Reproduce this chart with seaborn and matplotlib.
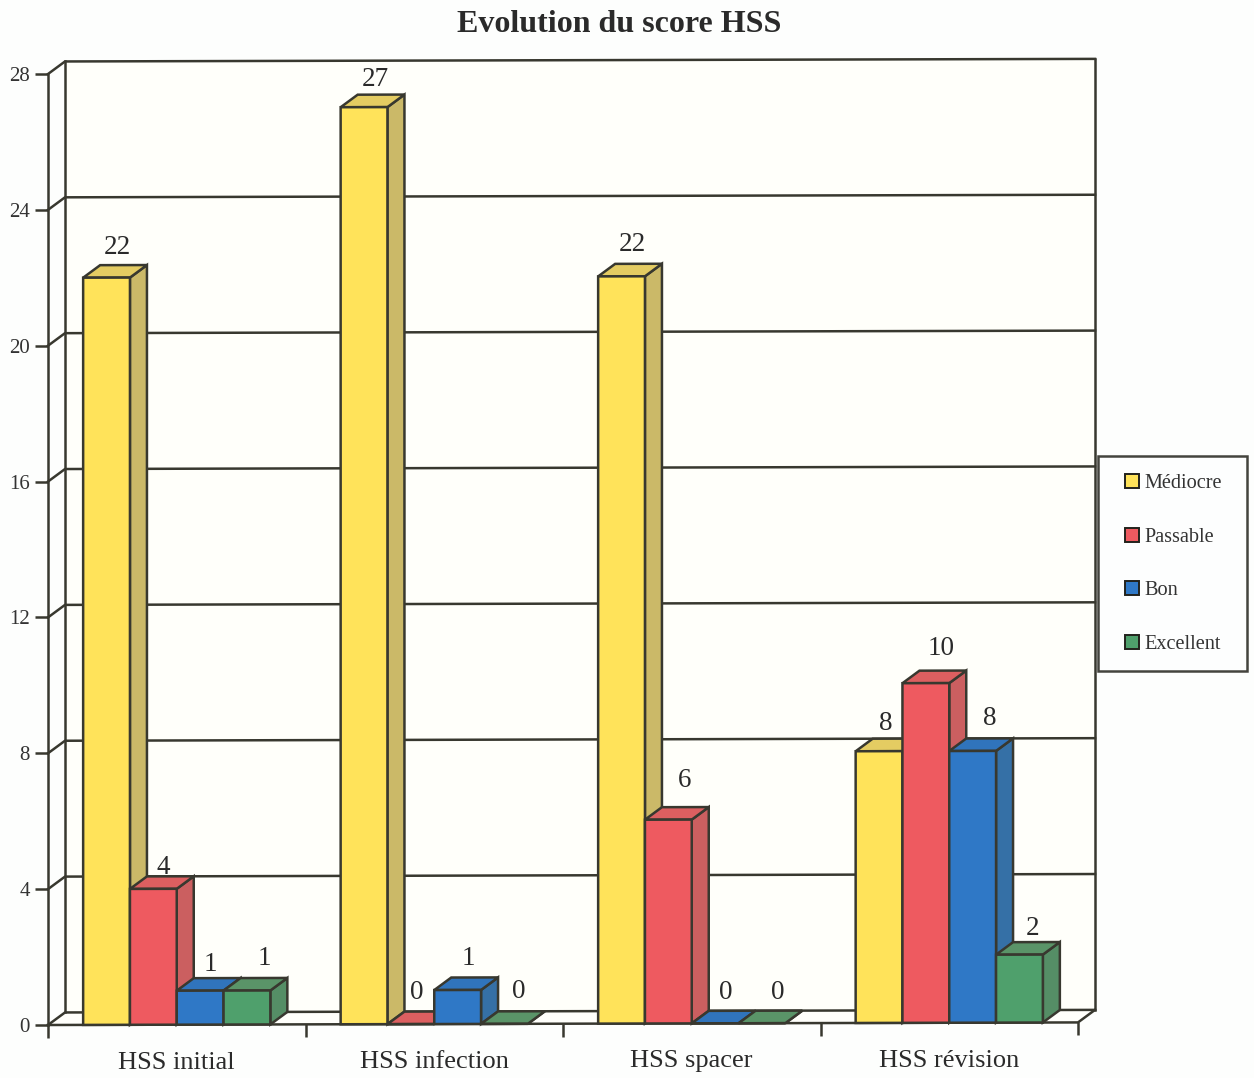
import matplotlib
matplotlib.use("Agg")
import matplotlib.pyplot as plt
import pandas as pd
import seaborn as sns
from matplotlib.patches import Polygon, Rectangle
from matplotlib.transforms import Affine2D

categories = ["HSS initial", "HSS infection", "HSS spacer", "HSS révision"]
series_names = ["Médiocre", "Passable", "Bon", "Excellent"]
mediocre = [22, 27, 22, 8]
passable = [4, 0, 6, 10]
bon = [1, 1, 0, 8]
excellent = [1, 0, 0, 2]
y_ticks = [0, 4, 8, 12, 16, 20, 24, 28]

front_colors = ["#FFE35A", "#EE5A60", "#2F78C6", "#4FA06C"]
side_colors = ["#CBB968", "#CB5F60", "#3570A6", "#558E66"]
top_colors = ["#E4CC62", "#DC5F60", "#3074BC", "#5A9468"]
ink = "#38382F"

# hand-placed value labels: nudges in pixels (right, down), one row per series
label_nudges = [
    [(2, 1), (2, 3), (2, -1), (-2, 3)],
    [(1, 10), (-3, -1), (7, -8), (6, -4)],
    [(1, 5), (2, 0), (2, 0), (8, -1)],
    [(8, -1), (5, -1), (7, 0), (4, 5)],
]

sns.set_theme(style="white")
plt.rcParams["font.family"] = ["Liberation Serif", "DejaVu Serif"]

W, H = 1254, 1078
fig = plt.figure(figsize=(W / 100, H / 100), dpi=100, facecolor="#FDFEFD")
L, R, B, T = 48, 1078, 1025, 74
ax = fig.add_axes([L / W, 1 - B / H, (R - L) / W, (B - T) / H])
ax.patch.set_visible(False)

df = pd.DataFrame({
    "cat": categories * 4,
    "serie": [s for s in series_names for _ in categories],
    "val": mediocre + passable + bon + excellent,
})
LW = 1.8
sns.barplot(data=df, x="cat", y="val", hue="serie", hue_order=series_names,
            order=categories, palette=front_colors, width=0.727, gap=0,
            saturation=1, legend=False, ax=ax, edgecolor=ink, linewidth=LW)

ax.set_xlim(-0.5, 3.5)
ax.set_ylim(0, 28)
px_x = 4 / (R - L)
px_y = 28 / (B - T)
dx, dy = 17 * px_x, 12.5 * px_y

# back wall, floor and grid
x0, x1 = -0.5, 3.5
ax.add_patch(Polygon([(x0 + dx, dy), (x1 + dx, dy), (x1 + dx, 28 + dy), (x0 + dx, 28 + dy)],
                     closed=True, facecolor="#FFFFFA", edgecolor="none", zorder=0.2))
ax.add_patch(Polygon([(x0, 0), (x1, 0), (x1 + dx, dy), (x0 + dx, dy)],
                     closed=True, facecolor="#FFFFFB", edgecolor="none", zorder=0.2))
line_kw = dict(color=ink, lw=LW, zorder=0.5, solid_capstyle="projecting")
for v in y_ticks:
    ax.plot([x0, x0 + dx, x1 + dx], [v, v + dy, v + dy], **line_kw)
ax.plot([x0 + dx, x0 + dx], [dy, 28 + dy], **line_kw)
ax.plot([x1 + dx, x1 + dx], [dy, 28 + dy], **line_kw)
ax.plot([x0, x1, x1 + dx], [0, 0, dy], **line_kw)

# 3D faces and value labels
for i, cont in enumerate(ax.containers):
    for j, bar in enumerate(cont):
        xa, w, h = bar.get_x(), bar.get_width(), bar.get_height()
        xb = xa + w
        z = 3 + 2 * i
        bar.set_zorder(z + 1)
        ax.add_patch(Polygon([(xb, 0), (xb + dx, dy), (xb + dx, h + dy), (xb, h)], closed=True,
                             facecolor=side_colors[i], edgecolor=ink, lw=LW, zorder=z))
        ax.add_patch(Polygon([(xa, h), (xa + dx, h + dy), (xb + dx, h + dy), (xb, h)], closed=True,
                             facecolor=top_colors[i], edgecolor=ink, lw=LW, zorder=z))
        nx, ny = label_nudges[i][j]
        ax.text(xa + w / 2 + (9 + nx) * px_x, h + (31 - ny) * px_y, f"{int(h)}", ha="center",
                va="center", fontsize=19.5, color="#2A2A2A", zorder=20)

# axes furniture
sns.despine(ax=ax, left=False, bottom=True, top=True, right=True)
ax.spines["left"].set_color(ink)
ax.spines["left"].set_linewidth(LW)
ax.set_xlabel("")
ax.set_ylabel("")
ax.set_yticks(y_ticks)
ax.tick_params(axis="y", length=9.4, width=LW, color=ink, labelcolor="#333333",
               labelsize=15, pad=3.5, left=True)
ax.set_xticks([-0.5, 0.5, 1.5, 2.5, 3.5], minor=True)
ax.tick_params(axis="x", which="minor", length=9.4, width=LW, color=ink, bottom=True)
ax.tick_params(axis="x", which="major", length=0, labelsize=19, labelcolor="#2A2A2A", pad=19.5)

# the scanned page is slightly tilted
k = 0.0025
shear = Affine2D.from_values(1, k, 0, 1, 0, -k * L)
for p in ax.patches:
    p.set_transform(p.get_data_transform() + shear)
    p.set_clip_on(False)
for a in list(ax.lines) + list(ax.texts):
    a.set_transform(a.get_transform() + shear)
    a.set_clip_on(False)
for tick in ax.xaxis.get_major_ticks():
    tick.label1.set_transform(tick.label1.get_transform() + shear)
for tick in ax.xaxis.get_minor_ticks():
    tick.tick1line.set_transform(tick.tick1line.get_transform() + shear)

fig.suptitle("Evolution du score HSS", x=619 / W, y=1 - 25 / H, va="center", ha="center",
             fontsize=23, fontweight="bold", color="#2A2A2A")

# legend
fig.add_artist(Rectangle((1098 / W, 1 - 671 / H), 149 / W, 215 / H, transform=fig.transFigure,
                         facecolor="#FDFEFE", edgecolor="#44443E", lw=1.8))
handles = [Rectangle((0, 0), 1, 1, facecolor=c, edgecolor="#22221C", lw=1.4) for c in front_colors]
fig.legend(handles, series_names, loc="center left", bbox_to_anchor=(1125 / W, 1 - 564 / H),
           frameon=False, fontsize=14.6, labelspacing=1.70, handlelength=0.69, handleheight=0.69,
           handletextpad=0.28, borderpad=0, borderaxespad=0, labelcolor="#333333")

fig.savefig("out.png", dpi=100, facecolor=fig.get_facecolor())
